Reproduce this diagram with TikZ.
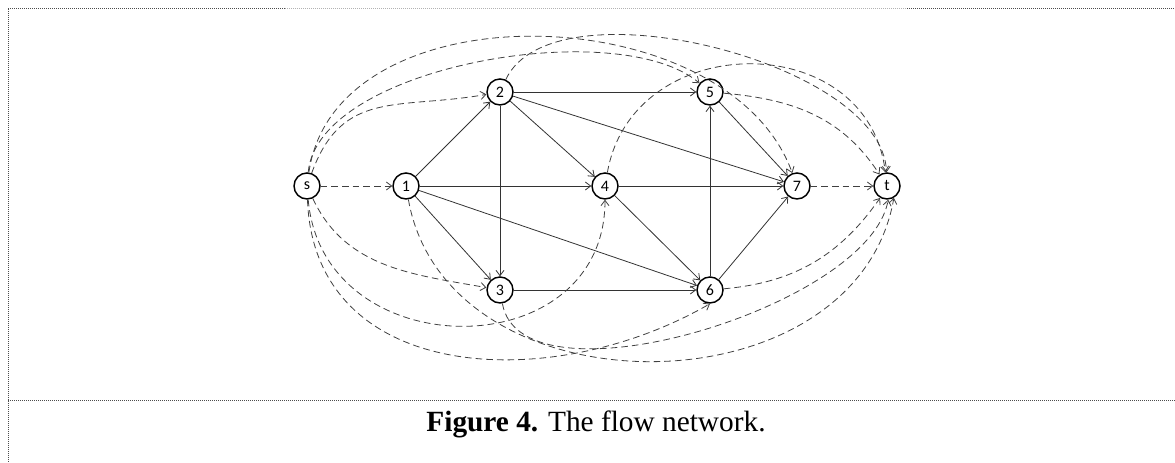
\documentclass[tikz,border=0pt]{standalone}
\usepackage{fontspec}
\setmainfont{Liberation Serif}
\newfontfamily\vertexfont{Carlito}
\usetikzlibrary{arrows.meta}

\tikzset{
  vertex/.style={circle,draw=black,line width=1.1pt,minimum size=19.5pt,inner sep=0pt,fill=white,font=\vertexfont\fontsize{12}{14}\selectfont},
  arc/.style={draw=black!80,line width=0.6pt,-{Straight Barb[length=4pt,width=6pt]}},
  resid/.style={arc,draw=black!75,dash pattern=on 5pt off 3pt},
  frame/.style={line width=0.75pt,dash pattern=on 0.75pt off 0.75pt}
}

\begin{document}
\begin{tikzpicture}[x=0.75pt,y=0.75pt]
\useasboundingbox (0,0) rectangle (1175,463);

% frame
\draw[frame,black!70] (8,454) -- (285,454);
\draw[frame,black!30] (285,454) -- (907,454);
\draw[frame,black!70] (907,454) -- (1175,454);
\draw[frame,black!70] (8,454) -- (8,0);
\draw[frame,black!70] (8,62) -- (1175,62);

\node[vertex] (s) at (307,277) {s};
\node[vertex] (1) at (406,277) {1};
\node[vertex] (2) at (500,371) {2};
\node[vertex] (3) at (500,173) {3};
\node[vertex] (4) at (605,277) {4};
\node[vertex] (5) at (710,371) {5};
\node[vertex] (6) at (710,173) {6};
\node[vertex] (7) at (797,277) {7};
\node[vertex] (t) at (887,277) {t};

% solid arcs
\draw[arc] (1) -- (2); \draw[arc] (1) -- (4); \draw[arc] (1) -- (3); \draw[arc] (1) -- (6);
\draw[arc] (2) -- (5); \draw[arc] (2) -- (4); \draw[arc] (2) -- (7); \draw[arc] (2) -- (3);
\draw[arc] (4) -- (7); \draw[arc] (4) -- (6); \draw[arc] (3) -- (6);
\draw[arc] (6) -- (5); \draw[arc] (6) -- (7); \draw[arc] (5) -- (7);

% dashed arcs
\draw[resid] (s) -- (1);
\draw[resid] (7) -- (t);
\draw[resid] (s) to[out=70,in=190,looseness=1.2] (2);
\draw[resid] (s) to[out=85,in=140,looseness=0.68] (5);
\draw[resid] (s) to[out=82,in=110,looseness=1.0] (7);
\draw[resid] (2) to[out=65,in=92,looseness=0.72] (t);
\draw[resid] (4) to[out=80,in=97,looseness=1.35] (t);
\draw[resid] (5) to[out=-5,in=123] (t);
\draw[resid] (s) to[out=-65,in=170] (3);
\draw[resid] (s) to[out=-85,in=-90,looseness=1.46] (4);
\draw[resid] (s) to[out=-88,in=210,looseness=1.13] (6.south);
\draw[resid] (1) to[out=-80,in=-100,looseness=1.16] (t.-60);
\draw[resid] (3) to[out=-80,in=-100,looseness=0.7] (t.-85);
\draw[resid] (6) to[out=5,in=-125] (t.-120);

\node[anchor=base,font=\fontsize{22}{26}\selectfont] (caption) at (596,31) {\textbf{Figure 4.} The flow network.};
\end{tikzpicture}
\end{document}
